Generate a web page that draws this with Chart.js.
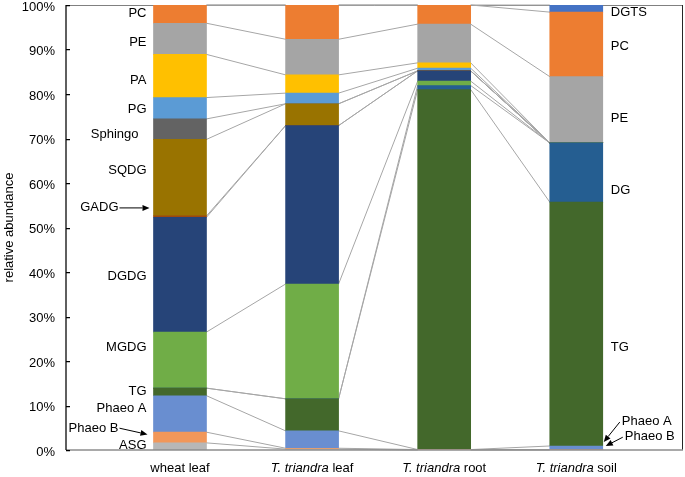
<!DOCTYPE html>
<html>
<head>
<meta charset="utf-8">
<script src="https://cdn.jsdelivr.net/npm/chart.js@4"></script>
<style>
  body { margin: 0; background: #fff; }
  #chart { display: block; }
</style>
</head>
<body>
<canvas id="chart" width="685" height="477"></canvas>
<script>
const categories = ["wheat leaf", "T. triandra leaf", "T. triandra root", "T. triandra soil"];
const categoryItalic = ["", "T. triandra", "T. triandra", "T. triandra"];
const categoryPlain = ["wheat leaf", " leaf", " root", " soil"];

// relative abundance (%) per category, stacked bottom to top
const ASG     = [1.6, 0.2, 0,    0];
const phaeoB  = [2.4, 0.2, 0.1,  0.1];
const phaeoA  = [8.2, 3.9, 0,    0.8];
const TG      = [1.7, 7.2, 80.9, 54.8];
const DG      = [0,   0,   0.9,  13.3];
const MGDG    = [12.6, 25.8, 1.0, 0];
const DGDG    = [25.8, 35.6, 2.3, 0];
const GADG    = [0.3, 0,   0,    0];
const SQDG    = [17.2, 4.9, 0,   0];
const sphingo = [4.6, 0,   0,    0];
const PG      = [4.8, 2.4, 0.6,  0];
const PA      = [9.7, 4.1, 1.2,  0];
const PE      = [7.0, 8.0, 8.7,  14.9];
const PC      = [4.1, 7.7, 4.3,  14.5];
const DGTS    = [0,   0,   0,    1.6];

const seriesNames = ["ASG", "Phaeo B", "Phaeo A", "TG", "DG", "MGDG", "DGDG", "GADG",
                     "SQDG", "Sphingo", "PG", "PA", "PE", "PC", "DGTS"];
const seriesValues = [ASG, phaeoB, phaeoA, TG, DG, MGDG, DGDG, GADG,
                      SQDG, sphingo, PG, PA, PE, PC, DGTS];
const seriesColors = ["#b7b7b7", "#f1975a", "#698ed0", "#43682b", "#255e91", "#70ad47",
                      "#264478", "#9e480e", "#997300", "#636363", "#5b9bd5", "#ffc000",
                      "#a5a5a5", "#ed7d31", "#4472c4"];

const yTicks = [0, 10, 20, 30, 40, 50, 60, 70, 80, 90, 100];

// label placement (y in %, arrows point at the bar)
const leftLabels = [
  { text: "PC", y: 98.0 },
  { text: "PE", y: 91.7 },
  { text: "PA", y: 83.1 },
  { text: "PG", y: 76.6 },
  { text: "Sphingo", y: 71.0, dx: -8 },
  { text: "SQDG", y: 62.9 },
  { text: "GADG", y: 54.4, dx: -28, arrow: { y: 54.4, gap: 4 } },
  { text: "DGDG", y: 38.9 },
  { text: "MGDG", y: 23.1 },
  { text: "TG", y: 13.1 },
  { text: "Phaeo A", y: 9.4 },
  { text: "Phaeo B", y: 4.9, dx: -28, arrow: { y: 3.5, gap: 6 } },
  { text: "ASG", y: 1.1 },
];
const rightLabels = [
  { text: "DGTS", y: 98.3 },
  { text: "PC", y: 90.6 },
  { text: "PE", y: 74.6 },
  { text: "DG", y: 58.4 },
  { text: "TG", y: 23.1 },
  { text: "Phaeo A", y: 6.5, dx: 11, arrow: { y: 1.8, gap: 1 } },
  { text: "Phaeo B", y: 3.1, dx: 14, arrow: { y: 0.9, gap: 3 } },
];

const FONT = '13px "Liberation Sans", Arial, sans-serif';
const ITALIC = 'italic 13px "Liberation Sans", Arial, sans-serif';

function arrow(ctx, x0, y0, x1, y1) {
  const ang = Math.atan2(y1 - y0, x1 - x0);
  const len = 7, half = 3;
  const bx = x1 - len * Math.cos(ang), by = y1 - len * Math.sin(ang);
  ctx.beginPath();
  ctx.moveTo(x0, y0);
  ctx.lineTo(bx, by);
  ctx.stroke();
  ctx.beginPath();
  ctx.moveTo(x1, y1);
  ctx.lineTo(bx + half * Math.sin(ang), by - half * Math.cos(ang));
  ctx.lineTo(bx - half * Math.sin(ang), by + half * Math.cos(ang));
  ctx.closePath();
  ctx.fill();
}

const decor = {
  id: "decor",
  beforeDatasetsDraw(chart) {
    const { ctx, chartArea: a } = chart;
    ctx.save();
    // frame
    ctx.lineWidth = 1;
    ctx.strokeStyle = "#808080";
    ctx.beginPath();
    ctx.moveTo(a.left, a.top + 0.5);
    ctx.lineTo(a.right, a.top + 0.5);
    ctx.stroke();
    ctx.strokeStyle = "#262626";
    ctx.beginPath();
    ctx.moveTo(a.right - 0.5, a.top);
    ctx.lineTo(a.right - 0.5, a.bottom);
    ctx.stroke();
    // series lines between neighbouring bars
    ctx.strokeStyle = "#a6a6a6";
    ctx.lineWidth = 1;
    chart.data.datasets.forEach((ds, k) => {
      const bars = chart.getDatasetMeta(k).data;
      for (let i = 0; i < bars.length - 1; i++) {
        const b0 = bars[i], b1 = bars[i + 1];
        ctx.beginPath();
        ctx.moveTo(b0.x + b0.width / 2, b0.y);
        ctx.lineTo(b1.x - b1.width / 2, b1.y);
        ctx.stroke();
      }
    });
    ctx.restore();
  },
  afterDraw(chart) {
    const { ctx, chartArea: a, scales } = chart;
    const y = scales.y, x = scales.x;
    ctx.save();
    // axes
    ctx.strokeStyle = "#8c8c8c";
    ctx.lineWidth = 1.5;
    ctx.beginPath();
    ctx.moveTo(a.left, a.bottom);
    ctx.lineTo(a.right, a.bottom);
    ctx.stroke();
    ctx.strokeStyle = "#000";
    ctx.lineWidth = 1.25;
    ctx.beginPath();
    ctx.moveTo(a.left, a.top);
    ctx.lineTo(a.left, a.bottom);
    yTicks.forEach((t) => {
      const py = Math.round(y.getPixelForValue(t)) + 0.5;
      ctx.moveTo(a.left, py);
      ctx.lineTo(a.left + 4, py);
    });
    ctx.stroke();

    // category labels, partly italic
    ctx.fillStyle = "#000";
    ctx.textBaseline = "middle";
    ctx.textAlign = "left";
    categories.forEach((c, i) => {
      ctx.font = ITALIC;
      const wi = ctx.measureText(categoryItalic[i]).width;
      ctx.font = FONT;
      const wp = ctx.measureText(categoryPlain[i]).width;
      let px = x.getPixelForValue(i) - (wi + wp) / 2;
      ctx.font = ITALIC;
      ctx.fillText(categoryItalic[i], px, 468);
      ctx.font = FONT;
      ctx.fillText(categoryPlain[i], px + wi, 468);
    });

    // series labels beside first and last bar
    const first = chart.getDatasetMeta(0).data[0];
    const last = chart.getDatasetMeta(0).data[categories.length - 1];
    const leftEdge = first.x - first.width / 2;
    const rightEdge = last.x + last.width / 2;
    ctx.font = FONT;
    ctx.lineWidth = 1;
    ctx.strokeStyle = "#000";

    ctx.textAlign = "right";
    leftLabels.forEach((l) => {
      const tx = leftEdge - 7 + (l.dx || 0);
      const ty = y.getPixelForValue(l.y);
      ctx.fillText(l.text, tx, ty);
      if (l.arrow) {
        arrow(ctx, tx + 1, ty, leftEdge - l.arrow.gap, y.getPixelForValue(l.arrow.y));
      }
    });

    ctx.textAlign = "left";
    rightLabels.forEach((l) => {
      const tx = rightEdge + 8 + (l.dx || 0);
      const ty = y.getPixelForValue(l.y);
      ctx.fillText(l.text, tx, ty);
      if (l.arrow) {
        arrow(ctx, tx - 2, ty + 1, rightEdge + l.arrow.gap, y.getPixelForValue(l.arrow.y));
      }
    });
    ctx.restore();
  },
};

const datasets = seriesNames.map((name, k) => ({
  label: name,
  data: seriesValues[k].map((v, i) => ({ x: i, y: v })),
  backgroundColor: seriesColors[k],
  borderWidth: 0,
  barThickness: 53,
}));

new Chart(document.getElementById("chart"), {
  type: "bar",
  data: { datasets: datasets },
  options: {
    responsive: false,
    animation: false,
    layout: { padding: { top: 5, right: 2, bottom: 27 } },
    scales: {
      x: {
        type: "linear",
        display: false,
        stacked: true,
        offset: false,
        min: -0.863,
        max: 3.808,
      },
      y: {
        stacked: true,
        min: 0,
        max: 100,
        grid: { display: false, drawTicks: false },
        border: { display: false },
        ticks: {
          stepSize: 10,
          padding: 11,
          labelOffset: 2,
          color: "#000",
          font: { family: '"Liberation Sans", Arial, sans-serif', size: 13 },
          callback: (v) => v + "%",
        },
        title: {
          display: true,
          text: "relative abundance",
          color: "#000",
          padding: { top: 2, bottom: 0 },
          font: { family: '"Liberation Sans", Arial, sans-serif', size: 13 },
        },
        afterFit: (scale) => {
          scale.width = 66;
          scale.paddingTop = 0;
          scale.paddingBottom = 0;
        },
      },
    },
    plugins: {
      legend: { display: false },
      tooltip: { enabled: false },
    },
  },
  plugins: [decor],
});
</script>
</body>
</html>
